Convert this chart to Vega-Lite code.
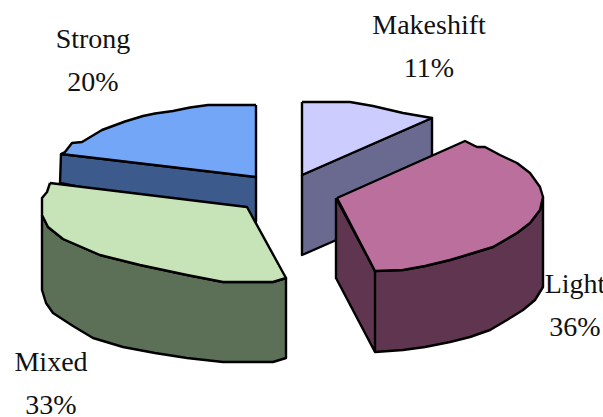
{
  "$schema": "https://vega.github.io/schema/vega-lite/v6.json",
  "width": 603,
  "height": 417,
  "padding": 0,
  "autosize": {"type": "none"},
  "background": "white",
  "view": {"stroke": null},
  "datasets": {
    "outlines": [
      {"part":"Strong side","seq":1,"x":122,"y":308},{"part":"Strong side","seq":2,"x":512,"y":354},{"part":"Strong side","seq":3,"x":512,"y":444},{"part":"Strong side","seq":4,"x":120,"y":366},{"part":"Strong side","seq":5,"x":122,"y":308},
      {"part":"Strong top","seq":1,"x":512,"y":210},{"part":"Strong top","seq":2,"x":416,"y":210},{"part":"Strong top","seq":3,"x":380,"y":215},{"part":"Strong top","seq":4,"x":346,"y":222},{"part":"Strong top","seq":5,"x":310,"y":227},{"part":"Strong top","seq":6,"x":286,"y":232},{"part":"Strong top","seq":7,"x":250,"y":243},{"part":"Strong top","seq":8,"x":204,"y":260},{"part":"Strong top","seq":9,"x":164,"y":284},{"part":"Strong top","seq":10,"x":144,"y":286},{"part":"Strong top","seq":11,"x":130,"y":304},{"part":"Strong top","seq":12,"x":122,"y":308},{"part":"Strong top","seq":13,"x":512,"y":354},{"part":"Strong top","seq":14,"x":512,"y":210},
      {"part":"Mixed side","seq":1,"x":84,"y":430},{"part":"Mixed side","seq":2,"x":84,"y":580},{"part":"Mixed side","seq":3,"x":92,"y":606},{"part":"Mixed side","seq":4,"x":106,"y":626},{"part":"Mixed side","seq":5,"x":146,"y":652},{"part":"Mixed side","seq":6,"x":186,"y":676},{"part":"Mixed side","seq":7,"x":246,"y":694},{"part":"Mixed side","seq":8,"x":310,"y":706},{"part":"Mixed side","seq":9,"x":374,"y":716},{"part":"Mixed side","seq":10,"x":446,"y":724},{"part":"Mixed side","seq":11,"x":546,"y":724},{"part":"Mixed side","seq":12,"x":572,"y":716},{"part":"Mixed side","seq":13,"x":572,"y":556},{"part":"Mixed side","seq":14,"x":546,"y":564},{"part":"Mixed side","seq":15,"x":446,"y":564},{"part":"Mixed side","seq":16,"x":374,"y":550},{"part":"Mixed side","seq":17,"x":280,"y":530},{"part":"Mixed side","seq":18,"x":200,"y":510},{"part":"Mixed side","seq":19,"x":126,"y":478},{"part":"Mixed side","seq":20,"x":96,"y":454},{"part":"Mixed side","seq":21,"x":84,"y":430},
      {"part":"Mixed top","seq":1,"x":100,"y":366},{"part":"Mixed top","seq":2,"x":494,"y":414},{"part":"Mixed top","seq":3,"x":572,"y":556},{"part":"Mixed top","seq":4,"x":546,"y":564},{"part":"Mixed top","seq":5,"x":446,"y":564},{"part":"Mixed top","seq":6,"x":374,"y":550},{"part":"Mixed top","seq":7,"x":280,"y":530},{"part":"Mixed top","seq":8,"x":200,"y":510},{"part":"Mixed top","seq":9,"x":126,"y":478},{"part":"Mixed top","seq":10,"x":96,"y":454},{"part":"Mixed top","seq":11,"x":84,"y":430},{"part":"Mixed top","seq":12,"x":84,"y":396},{"part":"Mixed top","seq":13,"x":94,"y":384},{"part":"Mixed top","seq":14,"x":100,"y":366},
      {"part":"Makeshift side","seq":1,"x":604,"y":350},{"part":"Makeshift side","seq":2,"x":864,"y":236},{"part":"Makeshift side","seq":3,"x":864,"y":396},{"part":"Makeshift side","seq":4,"x":604,"y":510},{"part":"Makeshift side","seq":5,"x":604,"y":350},
      {"part":"Makeshift top","seq":1,"x":604,"y":204},{"part":"Makeshift top","seq":2,"x":700,"y":204},{"part":"Makeshift top","seq":3,"x":746,"y":212},{"part":"Makeshift top","seq":4,"x":806,"y":226},{"part":"Makeshift top","seq":5,"x":864,"y":236},{"part":"Makeshift top","seq":6,"x":604,"y":350},{"part":"Makeshift top","seq":7,"x":604,"y":204},
      {"part":"Light side","seq":1,"x":672,"y":396},{"part":"Light side","seq":2,"x":750,"y":542},{"part":"Light side","seq":3,"x":806,"y":540},{"part":"Light side","seq":4,"x":850,"y":532},{"part":"Light side","seq":5,"x":900,"y":520},{"part":"Light side","seq":6,"x":940,"y":508},{"part":"Light side","seq":7,"x":986,"y":494},{"part":"Light side","seq":8,"x":1034,"y":466},{"part":"Light side","seq":9,"x":1060,"y":446},{"part":"Light side","seq":10,"x":1080,"y":420},{"part":"Light side","seq":11,"x":1086,"y":394},{"part":"Light side","seq":12,"x":1086,"y":574},{"part":"Light side","seq":13,"x":1070,"y":600},{"part":"Light side","seq":14,"x":1046,"y":620},{"part":"Light side","seq":15,"x":1014,"y":640},{"part":"Light side","seq":16,"x":980,"y":660},{"part":"Light side","seq":17,"x":940,"y":674},{"part":"Light side","seq":18,"x":900,"y":684},{"part":"Light side","seq":19,"x":850,"y":694},{"part":"Light side","seq":20,"x":806,"y":700},{"part":"Light side","seq":21,"x":750,"y":704},{"part":"Light side","seq":22,"x":672,"y":556},{"part":"Light side","seq":23,"x":672,"y":396},
      {"part":"Light edge","seq":1,"x":750,"y":542},{"part":"Light edge","seq":2,"x":750,"y":704},
      {"part":"Light top","seq":1,"x":674,"y":396},{"part":"Light top","seq":2,"x":930,"y":282},{"part":"Light top","seq":3,"x":954,"y":294},{"part":"Light top","seq":4,"x":970,"y":294},{"part":"Light top","seq":5,"x":1000,"y":310},{"part":"Light top","seq":6,"x":1034,"y":326},{"part":"Light top","seq":7,"x":1060,"y":346},{"part":"Light top","seq":8,"x":1080,"y":374},{"part":"Light top","seq":9,"x":1086,"y":394},{"part":"Light top","seq":10,"x":1080,"y":420},{"part":"Light top","seq":11,"x":1060,"y":446},{"part":"Light top","seq":12,"x":1034,"y":466},{"part":"Light top","seq":13,"x":986,"y":494},{"part":"Light top","seq":14,"x":940,"y":508},{"part":"Light top","seq":15,"x":900,"y":520},{"part":"Light top","seq":16,"x":850,"y":532},{"part":"Light top","seq":17,"x":806,"y":540},{"part":"Light top","seq":18,"x":750,"y":542},{"part":"Light top","seq":19,"x":674,"y":396}
    ],
    "labels": [
      {"segment":"Strong","share":20,"x":186,"y":52},
      {"segment":"Makeshift","share":11,"x":858,"y":24},
      {"segment":"Light","share":36,"x":1150,"y":542},
      {"segment":"Mixed","share":33,"x":102,"y":698}
    ]
  },
  "layer": [
    {
      "data": {"name": "outlines"},
      "mark": {"type": "line", "stroke": "black", "strokeWidth": 2.4, "strokeJoin": "round", "clip": false},
      "encoding": {
        "x": {"field": "x", "type": "quantitative", "axis": null, "scale": {"domain": [0, 1206], "nice": false, "zero": false}},
        "y": {"field": "y", "type": "quantitative", "axis": null, "scale": {"domain": [834, 0], "nice": false, "zero": false}},
        "order": {"field": "seq", "type": "ordinal"},
        "detail": {"field": "part"},
        "fill": {
          "field": "part",
          "type": "nominal",
          "legend": null,
          "scale": {
            "domain": ["Strong side","Strong top","Mixed side","Mixed top","Makeshift side","Makeshift top","Light side","Light edge","Light top"],
            "range": ["#3c5a8c","#73a6f7","#5c7058","#c6e4b8","#6a6a90","#ccccff","#5f3550","#5f3550","#bb6f9c"]
          }
        }
      }
    },
    {
      "data": {"name": "labels"},
      "transform": [{"calculate": "datum.segment + '\\n' + datum.share + '%'", "as": "caption"}],
      "mark": {"type": "text", "font": "Liberation Serif", "fontSize": 28, "lineHeight": 43, "lineBreak": "\n", "align": "center", "baseline": "top", "color": "#111111"},
      "encoding": {
        "x": {"field": "x", "type": "quantitative", "axis": null, "scale": {"domain": [0, 1206], "nice": false, "zero": false}},
        "y": {"field": "y", "type": "quantitative", "axis": null, "scale": {"domain": [834, 0], "nice": false, "zero": false}},
        "text": {"field": "caption"}
      }
    }
  ]
}
